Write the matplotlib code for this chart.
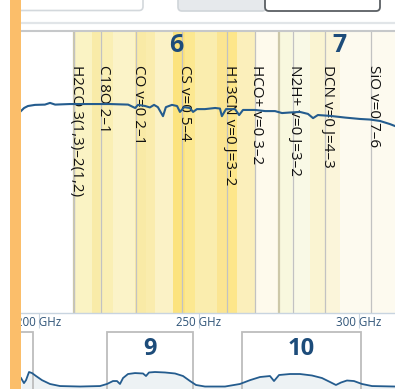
import matplotlib
matplotlib.use("Agg")
import matplotlib.pyplot as plt
from matplotlib.patches import Rectangle, FancyBboxPatch
from matplotlib.transforms import offset_copy

# ---------------- data ----------------
# atmospheric transmission across the zoomed window (GHz, fraction)
spec_freq = [194.5, 195.5, 196.7, 198.9, 202.0, 203.6, 205.2, 209.8, 216.1, 222.3,
             228.0, 230.2, 231.1, 233.3, 234.8, 236.1, 237.3, 238.9, 239.8, 241.7,
             243.3, 244.2, 245.5, 247.3, 248.3, 249.5, 252.0, 255.2, 256.7, 257.3,
             258.6, 261.4, 262.7, 263.9, 267.7, 270.8, 273.9, 276.1, 278.6, 281.7,
             284.2, 285.8, 287.3, 291.1, 295.8, 300.5, 303.6, 306.7, 309.8, 311.4]
spec_trans = [0.716, 0.727, 0.734, 0.738, 0.739, 0.745, 0.739, 0.741, 0.741, 0.741,
              0.739, 0.727, 0.738, 0.734, 0.729, 0.738, 0.730, 0.698, 0.730, 0.738,
              0.734, 0.713, 0.730, 0.727, 0.713, 0.723, 0.723, 0.727, 0.725, 0.698,
              0.723, 0.723, 0.702, 0.720, 0.720, 0.716, 0.716, 0.709, 0.711, 0.713,
              0.706, 0.691, 0.702, 0.699, 0.693, 0.688, 0.686, 0.681, 0.670, 0.663]

# molecular lines (GHz) and their labels
line_freqs = [211.211, 219.560, 230.538, 244.936, 259.012, 267.558, 279.512, 289.645, 303.927]
line_names = ["H2CO 3(1,3)\u20132(1,2)", "C18O 2\u20131", "CO v=0 2\u20131", "CS v=0 5\u20134",
              "H13CN v=0 J=3\u20132", "HCO+ v=0 3\u20132", "N2H+ v=0 J=3\u20132",
              "DCN v=0 J=4\u20133", "SiO v=0 7\u20136"]

# receiver bands in the zoomed window
band_names = ["6", "7"]
band_lo = [211.0, 275.0]
band_hi = [275.0, 373.0]
band_label_freq = [243.0, 294.0]

# shaded sub-ranges inside the bands
stripe_edges = [211.0, 216.7, 219.2, 223.3, 230.2, 233.5, 236.4, 242.0, 245.8, 248.9,
                255.8, 258.6, 262.0, 267.7, 275.0, 279.2, 284.8, 289.8, 294.2, 330.0]
stripe_colors = ["#faf3c4", "#f9eba8", "#faefb4", "#fbf3c8", "#f9eaa6", "#faecad",
                 "#fbf2c6", "#fce37e", "#fce890", "#faedae", "#fbe592", "#fde68a",
                 "#fbefbb", "#fefaec", "#f8f8de", "#f9f9e6", "#faf4d2", "#fbf5da",
                 "#fdfaef"]

tick_values = [200, 250, 300]
tick_labels = ["200 GHz", "250 GHz", "300 GHz"]

# overview strip: transmission over a wider range
ov_freq = [484.0, 488.1, 490.9, 495.0, 499.1, 504.6, 512.8, 523.8, 537.5, 565.0,
           592.4, 602.0, 610.2, 615.7, 619.8, 624.0, 630.8, 640.4, 651.4, 655.5,
           659.6, 667.8, 681.6, 695.3, 706.3, 715.9, 724.1, 736.4, 763.9, 784.4,
           798.2, 811.9, 825.6, 831.1, 838.0, 853.0, 866.8, 883.2, 896.9, 907.9,
           916.1, 923.0, 931.2, 940.8, 951.8, 965.5, 997.1]
ov_trans = [0.186, 0.100, 0.150, 0.288, 0.270, 0.220, 0.150, 0.085, 0.050, 0.042,
            0.050, 0.085, 0.135, 0.135, 0.085, 0.186, 0.254, 0.270, 0.263, 0.220,
            0.280, 0.288, 0.280, 0.263, 0.220, 0.135, 0.068, 0.042, 0.042, 0.085,
            0.150, 0.203, 0.220, 0.135, 0.237, 0.254, 0.254, 0.229, 0.186, 0.119,
            0.068, 0.110, 0.144, 0.135, 0.085, 0.050, 0.042]
ov_band_names = ["8", "9", "10"]
ov_band_lo = [385.0, 602.0, 787.0]
ov_band_hi = [500.0, 720.0, 950.0]

# ---------------- figure ----------------
W, H, DPI = 395, 389, 100
fig = plt.figure(figsize=(W / DPI, H / DPI), dpi=DPI)
fig.patch.set_facecolor("white")
FONT = "Open Sans"
BLUE = "#245c8e"
NUM = "#1d4c7a"


def px_axes(x0, y0, x1, y1, **kw):
    """Axes placed by pixel box (origin top-left)."""
    return fig.add_axes([x0 / W, 1 - y1 / H, (x1 - x0) / W, (y1 - y0) / H], **kw)


# ---- main zoomed spectrum ----
ax = px_axes(21, 31, 395, 313)
ax.set_xlim(194.53, 311.4)
ax.set_ylim(0, 1)
ax.set_facecolor("white")

for lo, hi, c in zip(stripe_edges[:-1], stripe_edges[1:], stripe_colors):
    ax.axvspan(lo, hi, color=c, lw=0, zorder=1)
for lo in band_lo:
    ax.axvline(lo, color="#cdc8a8", lw=1.6, zorder=2)

lbl_tf = offset_copy(ax.get_xaxis_transform(), fig=fig, x=2, y=0, units="dots")
for f, name in zip(line_freqs, line_names):
    ax.axvline(f, color="#c2c2c2", lw=0.9, zorder=2)
    ax.text(f, 0.879, name, transform=lbl_tf, rotation=-90, ha="center", va="top",
            fontsize=11, family=FONT, color="#111111", zorder=4, clip_on=True)

for name, f in zip(band_names, band_label_freq):
    ax.text(f, 0.95, name, transform=ax.get_xaxis_transform(), ha="center",
            va="center", fontsize=18, fontweight="bold", family=FONT, color=NUM,
            zorder=4)

ax.plot(spec_freq, spec_trans, color=BLUE, lw=1.5, zorder=5)

for s in ("left", "right"):
    ax.spines[s].set_visible(False)
ax.spines["top"].set_color("#c6c8ca")
ax.spines["top"].set_linewidth(1.5)
ax.spines["bottom"].set_color("#c8d4e0")
ax.spines["bottom"].set_linewidth(1.0)
ax.set_yticks([])
ax.set_xticks(tick_values)
ax.set_xticklabels(tick_labels)
ax.tick_params(axis="x", length=10.8, width=0.8, color="#c8d4e0", labelsize=8.3,
               labelcolor="#2f5478", pad=-8.5)
for t in ax.get_xticklabels():
    t.set_family(FONT)

# ---- overview strip ----
ov = px_axes(21, 330, 395, 389)
ov_lo, ov_hi = 484.0, 997.1
ov.set_xlim(ov_lo, ov_hi)
ov.set_ylim(0, 1)
ov.axis("off")
ov.fill_between(ov_freq, ov_trans, 0, color="#edf2f4", lw=0, zorder=1)
for name, lo, hi in zip(ov_band_names, ov_band_lo, ov_band_hi):
    ov.add_patch(Rectangle((lo, -0.5), hi - lo, 0.5 + 0.966, fill=False,
                           ec="#bdbdbd", lw=1.3, zorder=2))
    mid = (lo + hi) / 2
    if ov_lo < mid < ov_hi:
        ov.text(mid, 0.68, name, ha="center", va="center", fontsize=17,
                fontweight="bold", family=FONT, color=NUM, zorder=4)
ov.plot(ov_freq, ov_trans, color=BLUE, lw=1.3, zorder=3)

# ---- page chrome ----
page = fig.add_axes([0, 0, 1, 1], zorder=10)
page.set_xlim(0, W)
page.set_ylim(H, 0)
page.axis("off")
page.add_patch(FancyBboxPatch((14, -12), 129, 22.5, boxstyle="round,pad=0,rounding_size=4",
                              fc="white", ec="#d3d8dc", lw=1.2))
page.add_patch(FancyBboxPatch((178, -12), 88, 23, boxstyle="round,pad=0,rounding_size=4",
                              fc="#e6e9ec", ec="#d0d5d9", lw=1.2))
page.add_patch(FancyBboxPatch((265, -12), 115, 23, boxstyle="round,pad=0,rounding_size=4",
                              fc="white", ec="#5a5f63", lw=1.3))
page.plot([21, W], [23, 23], color="#e1e5e8", lw=1.6, solid_capstyle="butt")
page.add_patch(Rectangle((10, 0), 11, H, fc="#fbbe6a", ec="none"))

fig.savefig("out.png", dpi=DPI, facecolor="white")
